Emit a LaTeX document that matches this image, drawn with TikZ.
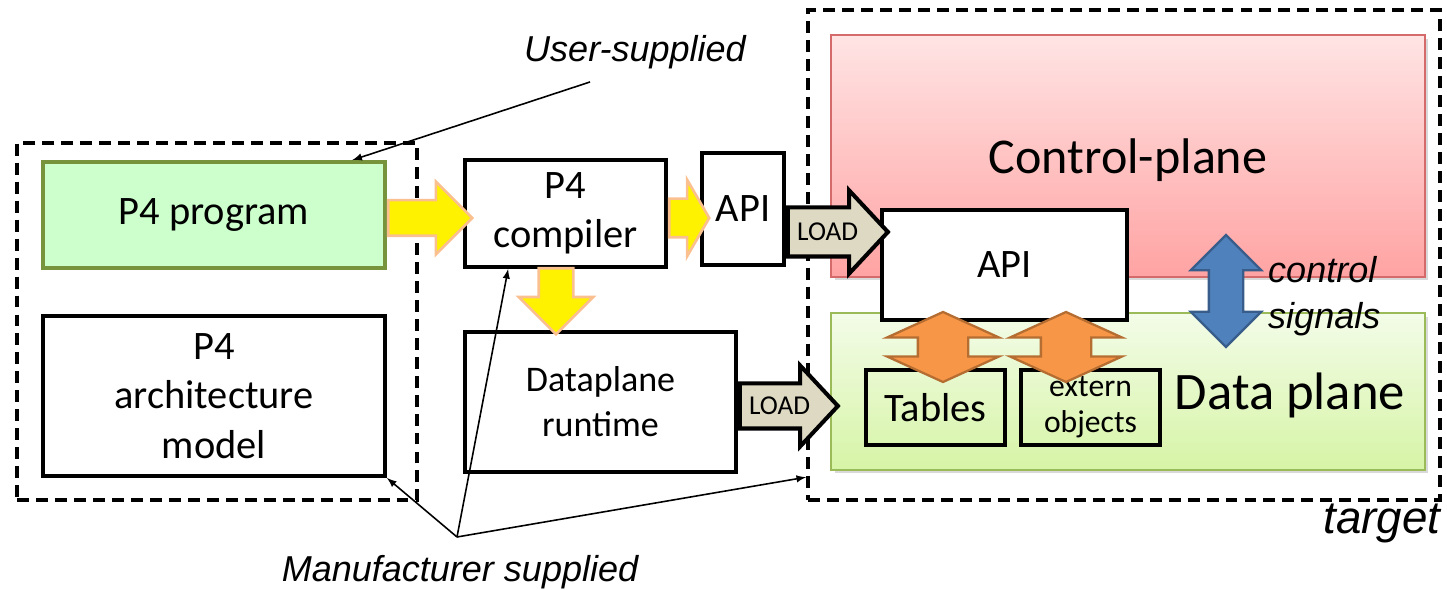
\documentclass[tikz,border=0pt]{standalone}
\usepackage{fontspec}
\setmainfont{Carlito}
\newfontfamily\lblfont{Liberation Sans}
\usetikzlibrary{shapes.arrows,shadows,calc}
\definecolor{progfill}{HTML}{CCFFCC}
\definecolor{progdraw}{HTML}{77933C}
\definecolor{cptop}{HTML}{FFE4E4}
\definecolor{cpbot}{HTML}{FFA3A3}
\definecolor{cpdraw}{HTML}{D46A6A}
\definecolor{dptop}{HTML}{F3FCE8}
\definecolor{dpbot}{HTML}{D6F4A6}
\definecolor{dpdraw}{HTML}{9BBB59}
\definecolor{yborder}{HTML}{FAC090}
\definecolor{loadfill}{HTML}{DDD9C3}
\definecolor{orfill}{HTML}{F79646}
\definecolor{ordraw}{HTML}{B66D31}
\definecolor{blfill}{HTML}{4F81BD}
\definecolor{bldraw}{HTML}{385D8A}
\tikzstyle{box}=[draw,rectangle,line width=2.2pt,inner sep=0pt,align=center,font=\fontsize{23}{28}\selectfont]
\tikzstyle{dashbox}=[draw,rectangle,line width=2.2pt,dash pattern=on 6.8pt off 4pt,inner sep=0pt]
\tikzstyle{note}=[font=\lblfont\itshape\fontsize{20.5}{26}\selectfont]

\begin{document}
\begin{tikzpicture}[x=0.02cm, y=-0.02cm, >=latex]
\tikzstyle{fatarrow}=[single arrow,draw=yborder,fill=yellow,line width=1.5pt,inner xsep=0pt,single arrow head indent=0pt,anchor=tail]
\tikzstyle{loadarrow}=[single arrow,draw,fill=loadfill,line width=2.3pt,inner xsep=0pt,inner ysep=0.45cm,single arrow tip angle=94,anchor=tail]
\tikzstyle{twoway}=[double arrow,line width=1.3pt,inner ysep=0pt,shape border rotate=90]
\tikzstyle{plane}=[draw,rectangle,line width=1pt,inner sep=0pt,drop shadow={shadow xshift=2pt,shadow yshift=-2pt,opacity=0.3}]
  \useasboundingbox (0,0) rectangle (1447,590);
  % supplied parts
  \node[dashbox,minimum width=8cm,minimum height=7.14cm] (user) at (217,321.5) {};
  \node[dashbox,minimum width=12.64cm,minimum height=9.8cm] (target) at (1124,255) {};
  \node[box,draw=progdraw,fill=progfill,minimum width=6.84cm,minimum height=2.12cm] (prog) at (214,215) {P4 program};
  \node[box,minimum width=6.84cm,minimum height=3.2cm] (arch) at (214,396) {P4\\architecture\\model};
  \node[box,minimum width=4.02cm,minimum height=2.14cm] (comp) at (565.5,213.5) {P4\\compiler};
  \node[box,minimum width=1.64cm,minimum height=2.24cm] (api) at (743,209) {API};
  \node[box,minimum width=5.42cm,minimum height=2.8cm,font=\fontsize{20.5}{25.5}\selectfont] (rt) at (600.5,402) {Dataplane\\runtime};
  % target
  \node[plane,draw=cpdraw,top color=cptop,bottom color=cpbot,minimum width=11.88cm,minimum height=4.84cm] (cp) at (1128,156) {};
  \node[font=\fontsize{28.5}{34}\selectfont] (cptext) at (1128,160) {Control-plane};
  \node[plane,draw=dpdraw,top color=dptop,bottom color=dpbot,minimum width=11.88cm,minimum height=3.14cm] (dp) at (1128,391.5) {};
  \node[font=\fontsize{30}{36}\selectfont] (dptext) at (1290,395) {Data plane};
  \node[box,fill=white,minimum width=4.9cm,minimum height=2.2cm] (apib) at (1004.5,265) {API};
  \node[box,minimum width=2.78cm,minimum height=1.5cm] (tab) at (935.5,407.5) {Tables};
  \node[box,minimum width=2.78cm,minimum height=1.5cm,font=\fontsize{18}{20.5}\selectfont] (ext) at (1090.5,407.5) {extern\\objects};
  % block arrows
  \node[fatarrow,inner ysep=0.33cm,minimum height=1.68cm,minimum width=1.4cm,single arrow head extend=0.37cm] (y1) at (prog.east |- 0,218) {};
  \node[fatarrow,inner ysep=0.36cm,minimum height=0.8cm,minimum width=1.48cm,single arrow head extend=0.38cm,single arrow tip angle=120] (y2) at (comp.east |- 0,218) {};
  \node[fatarrow,inner xsep=0.32cm,inner ysep=0pt,minimum height=1.32cm,minimum width=1.44cm,single arrow head extend=0.4cm,shape border rotate=270] (y3) at (556,267) {};
  \node[loadarrow,minimum height=2cm,minimum width=1.58cm,single arrow head extend=0.34cm] (l1) at (api.east |- 0,232) {};
  \node[loadarrow,inner ysep=0.41cm,minimum height=1.96cm,minimum width=1.54cm,single arrow head extend=0.36cm] (l2) at (rt.east |- 0,406) {};
  \foreach \name in {l1,l2}
    \node[font=\fontsize{15.5}{18}\selectfont,anchor=west] at ([xshift=0.1cm]\name.tail) {LOAD};
  \foreach \place/\name in {{(943,347)/o1},
                            {(1066,347)/o2}}
    \node[twoway,draw=ordraw,fill=orfill,inner xsep=0.48cm,minimum height=1.4cm,minimum width=2.2cm,double arrow head extend=0.62cm,double arrow tip angle=131] (\name) at \place {};
  \node[twoway,draw=bldraw,fill=blfill,inner xsep=0.32cm,minimum height=2.24cm,minimum width=1.36cm,double arrow head extend=0.36cm,double arrow tip angle=90] (bl) at (1226,291) {};
  % labels
  \node[note,align=left,anchor=west] (sig) at (1262,296) {control\\signals};
  \node[note] (usr) at (635,52) {User-supplied};
  \node[note] (manu) at (460,572) {Manufacturer supplied};
  \node[note,font=\lblfont\itshape\fontsize{26}{30}\selectfont] (tgt) at (1382,523) {target};
  \coordinate (us) at (590,82);
  \coordinate (mf) at (457,537);
  \draw[->,line width=0.9pt] (us) -- ($(prog.north west)!0.9!(prog.north east)$);
  \foreach \dest in {(arch.south east),
                     ($(comp.south west)!0.22!(comp.south east)$),
                     ($(target.south west)!0.05!(target.north west)$)}
    \draw[->,line width=0.9pt] (mf) -- \dest;
\end{tikzpicture}
\end{document}
